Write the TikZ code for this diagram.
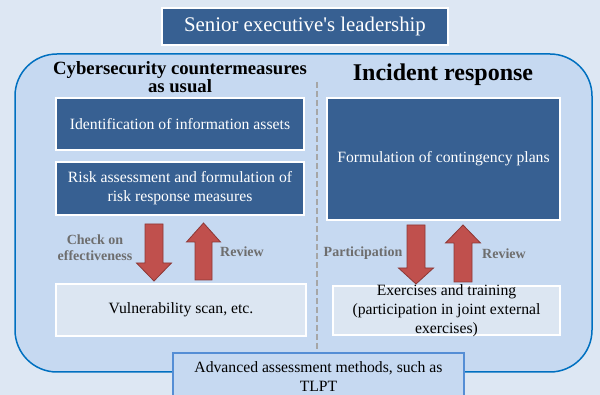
\documentclass[tikz,border=0pt]{standalone}
\usepackage{fontspec}
\setmainfont{Liberation Serif}
\usepackage{xcolor}
\usetikzlibrary{shadows}
\definecolor{pagebg}{HTML}{DDE7F3}
\definecolor{panelfill}{HTML}{C6D9F1}
\definecolor{panelline}{HTML}{0070C0}
\definecolor{boxdark}{HTML}{376092}
\definecolor{boxlight}{HTML}{DCE6F2}
\definecolor{tlptline}{HTML}{558ED5}
\definecolor{arrowfill}{HTML}{C0504D}
\definecolor{arrowline}{HTML}{8C3836}
\definecolor{labelgray}{HTML}{6E6E6E}

\tikzset{
  boxfont/.style={font=\fontsize{15.7}{19}\selectfont},
  darkbox/.style={draw=white, line width=2pt, fill=boxdark, text=white, boxfont,
    align=center, inner sep=0pt,
    drop shadow={shadow xshift=1pt, shadow yshift=-1.5pt, opacity=0.3}},
  lightbox/.style={draw=white, line width=2pt, fill=boxlight, boxfont,
    align=center, inner sep=0pt,
    drop shadow={shadow xshift=1pt, shadow yshift=-1.5pt, opacity=0.25}},
  flowlabel/.style={text=labelgray, font=\fontsize{14}{16}\selectfont\bfseries, align=center},
  fatarrow/.style={fill=arrowfill, draw=arrowline, line width=0.8pt, line join=miter},
}

\begin{document}
\begin{tikzpicture}[x=1pt, y=-1pt]
  \useasboundingbox (0,0) rectangle (600,395);
  \clip (0,0) rectangle (600,395);
  \fill[pagebg] (0,0) rectangle (600,395);

  % outer panel
  \node[draw=panelline, line width=1.5pt, fill=panelfill, rounded corners=42pt,
        minimum width=577pt, minimum height=318pt] (panel) at (303.5,213) {};

  \node[darkbox, font=\fontsize{20.8}{24}\selectfont,
        minimum width=286pt, minimum height=37pt] (lead) at (305,26.5)
    {Senior executive\textquotesingle s leadership};

  \node[font=\fontsize{18.7}{18}\selectfont\bfseries, align=center] (usualhead) at (180,77)
    {Cybersecurity countermeasures\\as usual};
  \node[font=\fontsize{24}{26}\selectfont\bfseries] (irhead) at (443,75) {Incident response};

  \coordinate (divtop) at (317,82);
  \coordinate (divbot) at (317,350);
  \draw[black!35, line width=2.5pt, dash pattern=on 6pt off 3pt] (divtop) -- (divbot);

  % left column
  \node[darkbox, minimum width=248pt, minimum height=52pt] (ident) at (180,124)
    {Identification of information assets};
  \node[darkbox, minimum width=248pt, minimum height=53pt] (risk) at (180,188.5)
    {Risk assessment and formulation of\\risk response measures};
  \node[lightbox, minimum width=250pt, minimum height=52pt] (vuln) at (181,310)
    {Vulnerability scan, etc.};

  % right column
  \node[darkbox, minimum width=233pt, minimum height=122pt] (plans) at (443.5,159)
    {Formulation of contingency plans};
  \node[lightbox, minimum width=227pt, minimum height=49pt] (exer) at (446.5,310.5) {};
  \node[boxfont, align=center, inner sep=0pt] (exertext) at (exer.center)
    {Exercises and training\\(participation in joint external\\exercises)};

  % block arrows between the columns' boxes
  \draw[fatarrow] (145,224) -- (163,224) -- (163,263) -- (171.5,263) -- (154,281)
    -- (136.5,263) -- (145,263) -- cycle;
  \draw[fatarrow] (195,280) -- (212,280) -- (212,242) -- (220.5,242) -- (203.5,223)
    -- (186.5,242) -- (195,242) -- cycle;
  \draw[fatarrow] (407,225) -- (425,225) -- (425,268) -- (433.5,268) -- (416,284)
    -- (398.5,268) -- (407,268) -- cycle;
  \draw[fatarrow] (454,282) -- (472,282) -- (472,243) -- (480.5,243) -- (463,225)
    -- (445.5,243) -- (454,243) -- cycle;

  \node[flowlabel] (check) at (95,248) {Check on\\effectiveness};
  \node[flowlabel] (rev1) at (242,252) {Review};
  \node[flowlabel] (part) at (363,253) {Participation};
  \node[flowlabel] (rev2) at (504,254) {Review};

  \node[draw=tlptline, line width=2pt, fill=panelfill, boxfont, align=center,
        minimum width=291pt, minimum height=48pt, inner sep=0pt] (tlpt) at (318.5,377)
    {Advanced assessment methods, such as\\TLPT};
\end{tikzpicture}
\end{document}
